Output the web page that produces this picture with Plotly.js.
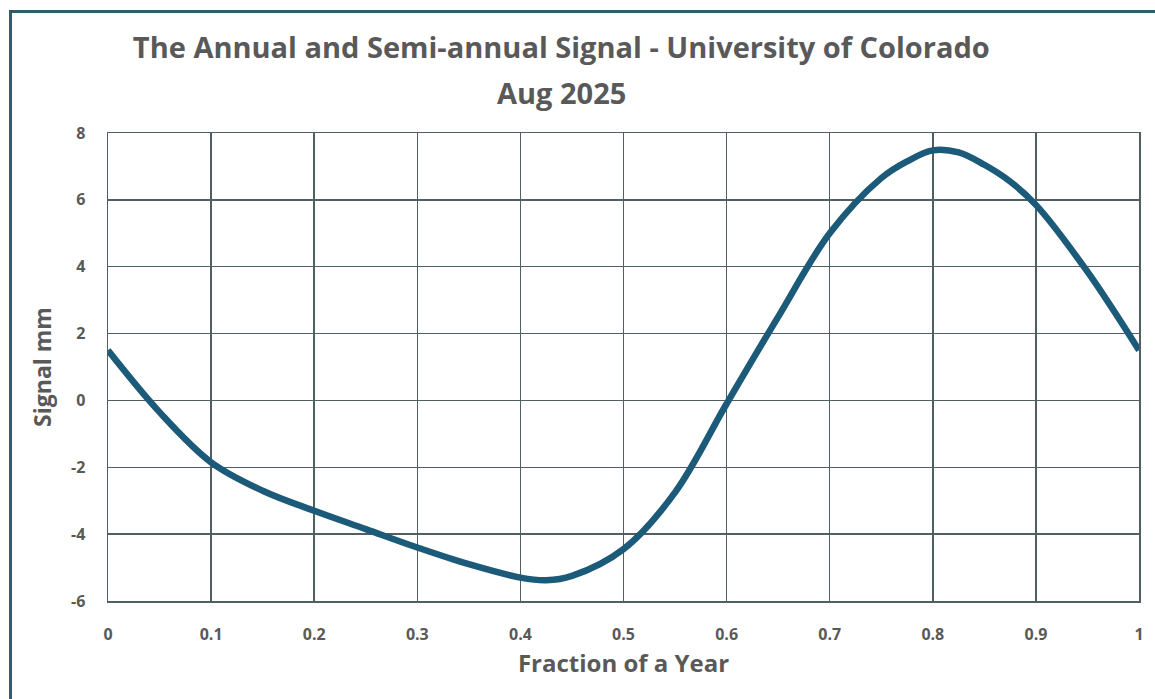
<!DOCTYPE html>
<html>
<head>
<meta charset="utf-8">
<script src="https://cdn.plot.ly/plotly-3.0.1.min.js"></script>
<style>
  html, body { margin: 0; padding: 0; background: #ffffff; overflow: hidden; }
  #wrap { position: relative; width: 1155px; height: 699px; }
  #chart { position: absolute; left: 0; top: 0; width: 1155px; height: 699px; }
  #frame { position: absolute; left: 9px; top: 10px; width: 1200px; height: 800px;
           border-top: 3px solid #2f5d6b; border-left: 3px solid #2f5d6b; pointer-events: none; }
</style>
</head>
<body>
<div id="wrap">
  <div id="chart"></div>
  <div id="frame"></div>
</div>
<script>
const fraction = [0, 0.05, 0.1, 0.15, 0.2, 0.25, 0.3, 0.35, 0.4, 0.425, 0.45, 0.5, 0.55, 0.6, 0.65, 0.7, 0.75, 0.775, 0.8, 0.825, 0.85, 0.875, 0.9, 0.95, 1.0];
const signalMm = [1.5, -0.35, -1.85, -2.7, -3.3, -3.85, -4.4, -4.9, -5.3, -5.38, -5.25, -4.45, -2.75, -0.1, 2.5, 5.0, 6.65, 7.15, 7.48, 7.42, 7.05, 6.55, 5.85, 3.85, 1.5];

const xTickVals = [0, 0.1, 0.2, 0.3, 0.4, 0.5, 0.6, 0.7, 0.8, 0.9, 1];
const xTickText = ["0", "0.1", "0.2", "0.3", "0.4", "0.5", "0.6", "0.7", "0.8", "0.9", "1"];
const yTickVals = [-6, -4, -2, 0, 2, 4, 6, 8];
const yTickText = ["-6", "-4", "-2", "0", "2", "4", "6", "8"];

const titleLine1 = "The Annual and Semi-annual Signal - University of Colorado";
const titleLine2 = "Aug 2025";
const xTitle = "Fraction of a Year";
const yTitle = "Signal mm";

const gridColor = "#4f5f62";
const textColor = "#595959";
const fontFam = "'Open Sans', Roboto, sans-serif";

const trace = {
  x: fraction,
  y: signalMm,
  type: "scatter",
  mode: "lines",
  line: { color: "#1b5a78", width: 6.5, shape: "spline", smoothing: 1.0 },
  hoverinfo: "x+y"
};

const axisCommon = {
  showgrid: true,
  gridcolor: gridColor,
  gridwidth: 1.5,
  showline: true,
  linecolor: gridColor,
  linewidth: 1.5,
  mirror: true,
  zeroline: true,
  zerolinecolor: gridColor,
  zerolinewidth: 1.5,
  ticks: "",
  tickmode: "array",
  tickfont: { family: fontFam, size: 16, color: textColor, weight: "bold" }
};

const layout = {
  width: 1155,
  height: 699,
  paper_bgcolor: "#ffffff",
  plot_bgcolor: "#ffffff",
  margin: { l: 108, r: 16, t: 133, b: 98 },
  showlegend: false,
  title: {
    text: titleLine1,
    font: { family: fontFam, size: 29, color: textColor, weight: "bold" },
    x: 0.486, xanchor: "center",
    y: 0.931, yanchor: "middle", yref: "container"
  },
  annotations: [{
    text: titleLine2,
    xref: "paper", yref: "paper",
    x: 0.44, y: 1.0855, xanchor: "center", yanchor: "middle",
    showarrow: false,
    font: { family: fontFam, size: 29, color: textColor, weight: "bold" }
  }],
  xaxis: Object.assign({}, axisCommon, {
    range: [0, 1],
    tickvals: xTickVals,
    ticktext: xTickText,
    ticklabelstandoff: 18,
    title: { text: xTitle, font: { family: fontFam, size: 24, color: textColor, weight: "bold" }, standoff: 11 }
  }),
  yaxis: Object.assign({}, axisCommon, {
    range: [-6, 8],
    tickvals: yTickVals,
    ticktext: yTickText,
    ticklabelstandoff: 18,
    title: { text: yTitle, font: { family: fontFam, size: 23, color: textColor, weight: "bold" }, standoff: 13 }
  })
};

Plotly.newPlot("chart", [trace], layout, { displayModeBar: false, staticPlot: true });
</script>
</body>
</html>
